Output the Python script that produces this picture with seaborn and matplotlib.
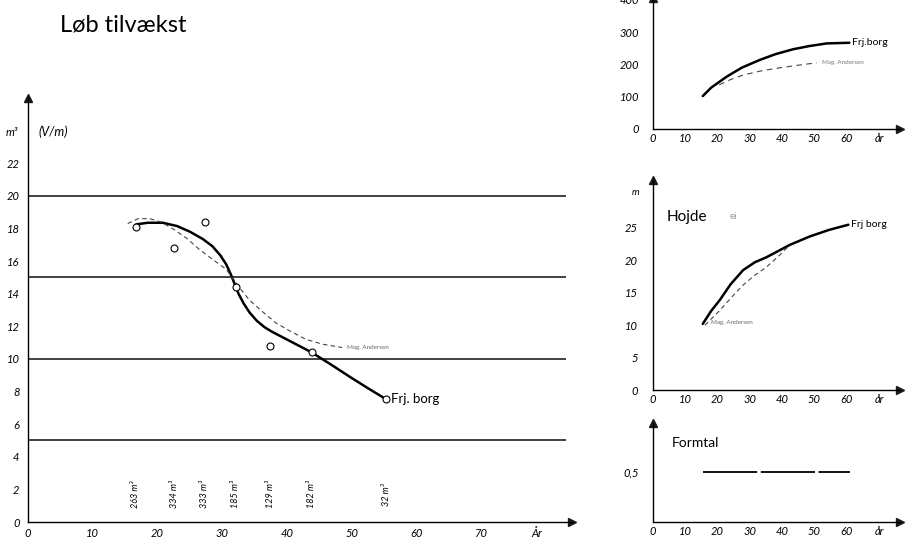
import numpy as np
import pandas as pd
import seaborn as sns
import matplotlib.pyplot as plt

sns.set_theme(style="white")
plt.rcParams['font.family'] = ['Lato', 'DejaVu Sans']

# --- main chart: løbende tilvækst (m3 per year) ---
frj_age = [16.7, 18.5, 20.8, 23.0, 25.0, 27.0, 28.5, 29.7, 30.6, 31.3, 31.9, 32.5, 33.3,
           34.2, 35.3, 36.5, 37.7, 40.9, 43.8, 46.8, 49.7, 52.5, 55.2]
frj_vol = [18.25, 18.35, 18.35, 18.15, 17.8, 17.35, 16.9, 16.35, 15.8, 15.2, 14.6, 14.0, 13.4,
           12.85, 12.35, 11.95, 11.66, 11.0, 10.4, 9.65, 8.9, 8.2, 7.55]
mag_age = [15.4, 17.0, 18.8, 20.5, 22.3, 24.5, 26.5, 28.5, 30.6, 32.4, 34.2, 36.2, 38.3,
           40.5, 42.9, 45.5, 48.5]
mag_vol = [18.3, 18.6, 18.6, 18.4, 18.0, 17.4, 16.7, 16.1, 15.5, 14.5, 13.6, 12.9, 12.2,
           11.7, 11.2, 10.9, 10.7]
pt_age = [16.6, 22.6, 27.3, 32.1, 37.4, 43.8, 55.3]
pt_vol = [18.1, 16.8, 18.4, 14.4, 10.8, 10.4, 7.55]
stand_vol = ["263 m³", "334 m³", "333 m³", "185 m³", "129 m³", "182 m³", "32 m³"]
main_yticks = [0, 2, 4, 6, 8, 10, 12, 14, 16, 18, 20, 22]
main_xticks = [0, 10, 20, 30, 40, 50, 60, 70]
main_hlines = [5, 10, 15, 20]

# --- top right: volume ---
v_frj_age = [15.4, 18.0, 22.8, 27.5, 33.1, 38.0, 43.4, 48.5, 53.8, 60.8]
v_frj_vol = [102, 128, 162, 190, 214, 232, 247, 257, 265, 267]
v_mag_age = [20.5, 24.0, 27.9, 33.0, 38.3, 44.5, 50.7]
v_mag_vol = [137, 153, 167, 179, 188, 197, 205]
vol_yticks = [0, 100, 200, 300, 400]

# --- middle right: height ---
h_frj_age = [15.4, 18.0, 20.7, 24.0, 27.9, 31.5, 35.2, 42.4, 48.6, 54.5, 60.5]
h_frj_h = [10.2, 12.2, 13.9, 16.3, 18.5, 19.7, 20.5, 22.4, 23.7, 24.7, 25.5]
h_mag_age = [16.1, 20.7, 24.3, 27.9, 31.5, 35.2, 38.8, 42.4]
h_mag_h = [10.0, 12.3, 14.3, 16.2, 17.7, 19.0, 20.6, 22.4]
h_yticks = [0, 5, 10, 15, 20, 25]

# --- bottom right: formtal ---
f_age = [15.6, 61.0]
f_val = [0.5, 0.5]

small_xticks = [0, 10, 20, 30, 40, 50, 60]

fig = plt.figure(figsize=(9.06, 5.42), dpi=100)


def style_axes(ax, xmax, ymax):
    ax.set_xlim(0, xmax)
    ax.set_ylim(0, ymax)
    for s in ['top', 'right']:
        ax.spines[s].set_visible(False)
    for s in ['left', 'bottom']:
        ax.spines[s].set_color('black')
        ax.spines[s].set_linewidth(1.0)
    ax.set_facecolor('none')
    # arrow heads
    ax.plot(1, 0, '>k', ms=6, transform=ax.transAxes, clip_on=False)
    ax.plot(0, 1, '^k', ms=6, transform=ax.transAxes, clip_on=False)
    ax.tick_params(length=0, labelsize=8, labelcolor='black')
    for lab in ax.get_xticklabels() + ax.get_yticklabels():
        lab.set_fontstyle('italic')


# main chart
ax = fig.add_axes([0.0309, 0.0369, 0.6005, 0.7823])
for yv in main_hlines:
    ax.hlines(yv, 0, 83, color='#333333', lw=1.3)
sns.lineplot(x=frj_age, y=frj_vol, sort=False, estimator=None, color='black', lw=1.8, ax=ax)
sns.lineplot(x=mag_age, y=mag_vol, sort=False, estimator=None, color='#444444', lw=0.8,
             ax=ax).lines[-1].set_dashes((4, 3))
sns.scatterplot(x=pt_age, y=pt_vol, marker='o', s=25, facecolor='white',
                edgecolor='black', linewidth=0.8, zorder=5, ax=ax)
for xa, lab in zip(pt_age, stand_vol):
    ax.text(xa, 1.7, lab, rotation=90, ha='center', va='center', fontsize=6.5,
            style='italic', color='black')
ax.text(frj_age[-1] + 0.8, frj_vol[-1], "Frj. borg", fontsize=9.5, va='center', color='black')
ax.text(mag_age[-1] + 0.8, mag_vol[-1], "Mag. Andersen", fontsize=4.5, va='center', color='#666666')
ax.set_xticks(main_xticks + [78.5])
ax.set_xticklabels([str(v) for v in main_xticks] + ["År"])
ax.set_yticks(main_yticks)
ax.set_yticklabels([str(v) for v in main_yticks])
style_axes(ax, 84, 26)
ax.tick_params(axis='y', pad=6)
ax.tick_params(axis='x', pad=4)
ax.text(-2.5, 23.9, "m³", fontsize=8, style='italic', ha='center', va='center', color='black')
ax.text(1.6, 23.9, "(V/m)", fontsize=9, style='italic', ha='left', va='center', color='black')
fig.text(0.066, 0.953, "Løb tilvækst", fontsize=17, color='black', va='center')

# top right: volume
ax1 = fig.add_axes([0.7208, 0.762, 0.2726, 0.2413])
sns.lineplot(x=v_frj_age, y=v_frj_vol, sort=False, estimator=None, color='black', lw=1.8, ax=ax1)
sns.lineplot(x=v_mag_age, y=v_mag_vol, sort=False, estimator=None, color='#444444', lw=0.8,
             ax=ax1).lines[-1].set_dashes((5, 4))
ax1.text(v_frj_age[-1] + 0.8, v_frj_vol[-1], "Frj.borg", fontsize=7.5, va='center', color='black')
ax1.text(v_mag_age[-1] + 1.5, v_mag_vol[-1], "Mag. Andersen", fontsize=4.5, va='center', color='#777777')
ax1.set_xticks(small_xticks + [70])
ax1.set_xticklabels([str(v) for v in small_xticks] + ["år"])
ax1.set_yticks(vol_yticks)
ax1.set_yticklabels([str(v) for v in vol_yticks])
style_axes(ax1, 76.5, 405)
ax1.tick_params(axis='y', pad=10)
ax1.tick_params(axis='x', pad=3)

# middle right: height
ax2 = fig.add_axes([0.7208, 0.2804, 0.2726, 0.3875])
sns.lineplot(x=h_frj_age, y=h_frj_h, sort=False, estimator=None, color='black', lw=1.8, ax=ax2)
sns.lineplot(x=h_mag_age, y=h_mag_h, sort=False, estimator=None, color='#444444', lw=0.8,
             ax=ax2).lines[-1].set_dashes((4, 3))
ax2.text(h_frj_age[-1] + 0.8, h_frj_h[-1], "Frj borg", fontsize=7.5, va='center', color='black')
ax2.text(h_mag_age[0] + 1.8, h_mag_h[0] + 0.4, "Mag. Andersen", fontsize=4.5, va='center', color='#666666')
ax2.text(4.3, 26.7, "Hojde", fontsize=11, va='center', color='black')
ax2.text(23.8, 26.7, "ei", fontsize=7, va='center', color='#999999')
ax2.text(-5.5, 30.4, "m", fontsize=7, style='italic', ha='center', va='center', color='black')
ax2.set_xticks(small_xticks + [70])
ax2.set_xticklabels([str(v) for v in small_xticks] + ["år"])
ax2.set_yticks(h_yticks)
ax2.set_yticklabels([str(v) for v in h_yticks])
style_axes(ax2, 76.5, 32.4)
ax2.tick_params(axis='y', pad=11)
ax2.tick_params(axis='x', pad=3)

# bottom right: formtal
ax3 = fig.add_axes([0.7208, 0.0375, 0.2726, 0.182])
sns.lineplot(x=f_age, y=f_val, sort=False, estimator=None, color='black', lw=1.3,
             ax=ax3).lines[-1].set_dashes((30, 2))
ax3.text(5.9, 0.8, "Formtal", fontsize=10, va='center', color='black')
ax3.set_xticks(small_xticks + [70])
ax3.set_xticklabels([str(v) for v in small_xticks] + ["år"])
ax3.set_yticks([0.5])
ax3.set_yticklabels(["0,5"])
style_axes(ax3, 76.5, 1.0)
ax3.tick_params(axis='y', pad=10)
ax3.tick_params(axis='x', pad=3)

fig.savefig("out.png", dpi=100)
